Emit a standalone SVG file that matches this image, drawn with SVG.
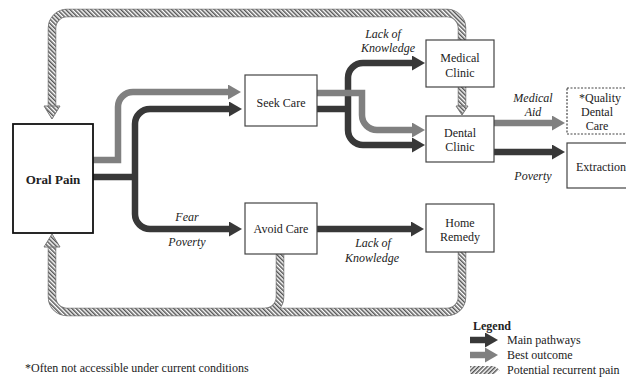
<svg xmlns="http://www.w3.org/2000/svg" width="626" height="379" viewBox="0 0 626 379" font-family="'Liberation Serif', 'DejaVu Serif', serif">
<style>
.box{fill:#fff;stroke:#444;stroke-width:1.2}
.t{font-size:12px;fill:#222;text-anchor:middle}
.i{font-style:italic}
.b{font-weight:bold}
.s{text-anchor:start}
.dark{fill:none;stroke:#383838;stroke-width:6.5}
.gray{fill:none;stroke:#808080;stroke-width:6.5}
.hbase{fill:none;stroke:#777;stroke-width:8.5}
.hfill{fill:none;stroke:url(#hatch);stroke-width:7}
.hhead{fill:url(#hatch);stroke:#777;stroke-width:1}
</style>
<defs>
<pattern id="hatch" patternUnits="userSpaceOnUse" width="3" height="3" patternTransform="rotate(-45)">
<rect width="3" height="3" fill="#fff"/>
<rect width="1.5" height="3" fill="#555"/>
</pattern>
<pattern id="hatch2" patternUnits="userSpaceOnUse" width="3" height="3" patternTransform="rotate(45)">
<rect width="3" height="3" fill="#fff"/>
<rect width="1.5" height="3" fill="#555"/>
</pattern>
<marker id="ad" markerUnits="userSpaceOnUse" markerWidth="14" markerHeight="16" refX="2" refY="7.5" orient="auto">
<polygon points="0,0 13,7.5 0,15" fill="#383838"/>
</marker>
<marker id="ag" markerUnits="userSpaceOnUse" markerWidth="14" markerHeight="16" refX="2" refY="7.5" orient="auto">
<polygon points="0,0 13,7.5 0,15" fill="#808080"/>
</marker>
</defs>

<g id="connectors">
<path class="hbase" d="M462,40 V28 A15,15 0 0 0 447,13 H67 A15,15 0 0 0 52,28 V106"/>
<path class="hfill" d="M462,40 V28 A15,15 0 0 0 447,13 H67 A15,15 0 0 0 52,28 V106"/>
<polygon class="hhead" points="44,106 60,106 52,119"/>
<path class="hbase" d="M462,87 V106"/>
<path class="hfill" d="M462,87 V106"/>
<polygon class="hhead" points="456,106 468,106 462,115"/>
<path class="hbase" d="M462,252 V297 A15,15 0 0 1 447,312 H67 A15,15 0 0 1 52,297 V247"/>
<path class="hbase" d="M280,254 V297 A15,15 0 0 1 265,312"/>
<path class="hfill" d="M462,252 V297 A15,15 0 0 1 447,312 H67 A15,15 0 0 1 52,297 V247"/>
<path class="hfill" d="M280,254 V297 A15,15 0 0 1 265,312"/>
<polygon class="hhead" points="44,247 60,247 52,234"/>
<path class="dark" d="M93,177 H135"/>
<path class="dark" d="M135,177 V124 A15,15 0 0 1 150,109 H231" marker-end="url(#ad)"/>
<path class="dark" d="M135,177 V214 A15,15 0 0 0 150,229 H231" marker-end="url(#ad)"/>
<path class="gray" d="M93,160 H118 V107 A15,15 0 0 1 133,92 H230" marker-end="url(#ag)"/>
<path class="dark" d="M317,109 H348"/>
<path class="dark" d="M348,109 V78 A15,15 0 0 1 363,63 H414" marker-end="url(#ad)"/>
<path class="dark" d="M348,109 V130 A15,15 0 0 0 363,145 H414" marker-end="url(#ad)"/>
<path class="gray" d="M317,93 H362 V115 A15,15 0 0 0 377,130 H414" marker-end="url(#ag)"/>
<path class="gray" d="M494,123 H554" marker-end="url(#ag)"/>
<path class="dark" d="M494,152 H554" marker-end="url(#ad)"/>
<path class="dark" d="M317,229 H413" marker-end="url(#ad)"/>
</g>

<g id="labels">
<text class="t i" x="383" y="38">Lack of</text>
<text class="t i" x="388" y="52">Knowledge</text>
<text class="t i" x="533" y="102">Medical</text>
<text class="t i" x="533" y="116">Aid</text>
<text class="t i" x="533" y="180">Poverty</text>
<text class="t i" x="187" y="221">Fear</text>
<text class="t i" x="187" y="246">Poverty</text>
<text class="t i" x="373" y="247">Lack of</text>
<text class="t i" x="372" y="262">Knowledge</text>
</g>

<g id="oral-pain">
<rect x="13" y="124" width="80" height="109" fill="#fff" stroke="#111" stroke-width="1.8"/>
<text class="t b" x="53" y="184" style="font-size:13px">Oral Pain</text>
</g>
<g id="seek-care">
<rect class="box" x="245" y="75" width="72" height="51"/>
<text class="t" x="281" y="107">Seek Care</text>
</g>
<g id="avoid-care">
<rect class="box" x="245" y="203" width="72" height="51"/>
<text class="t" x="281" y="233">Avoid Care</text>
</g>
<g id="medical-clinic">
<rect class="box" x="426" y="40" width="68" height="47"/>
<text class="t" x="460" y="62">Medical</text>
<text class="t" x="460" y="77">Clinic</text>
</g>
<g id="dental-clinic">
<rect class="box" x="426" y="116" width="68" height="46"/>
<text class="t" x="460" y="137">Dental</text>
<text class="t" x="460" y="151">Clinic</text>
</g>
<g id="home-remedy">
<rect class="box" x="426" y="204" width="68" height="48"/>
<text class="t" x="460" y="227">Home</text>
<text class="t" x="460" y="241">Remedy</text>
</g>
<g id="quality-dental-care">
<rect x="567" y="88" width="62" height="46" fill="#fff" stroke="#444" stroke-width="1.2" stroke-dasharray="2,1.5"/>
<text class="t" x="600" y="102">*Quality</text>
<text class="t" x="597" y="116">Dental</text>
<text class="t" x="597" y="130">Care</text>
</g>
<g id="extraction">
<rect class="box" x="567" y="143" width="64" height="45"/>
<text class="t s" x="576" y="171">Extraction</text>
</g>

<g id="legend">
<text class="t b s" x="473" y="330">Legend</text>
<path class="dark" d="M470,340 H487" marker-end="url(#ad)"/>
<text class="t s" x="507" y="344">Main pathways</text>
<path class="gray" d="M470,355 H487" marker-end="url(#ag)"/>
<text class="t s" x="507" y="359">Best outcome</text>
<polygon points="470,366 494,366 500,370 494,374 470,374" fill="url(#hatch2)"/>
<text class="t s" x="507" y="374">Potential recurrent pain</text>
</g>

<g id="footnote">
<text class="t s" x="25" y="372">*Often not accessible under current conditions</text>
</g>
</svg>
